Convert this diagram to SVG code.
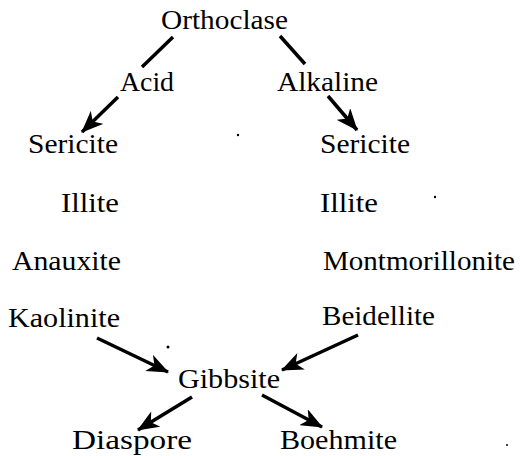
<svg xmlns="http://www.w3.org/2000/svg" width="520" height="456" viewBox="0 0 520 456">
<style>
text{font-family:"Liberation Serif","DejaVu Serif","Times New Roman",serif;font-size:27px;fill:#000}
.c line{stroke:#000;stroke-width:3.5;stroke-linecap:butt}
.a{marker-end:url(#ah)}
</style>
<defs>
<marker id="ah" markerUnits="userSpaceOnUse" markerWidth="22" markerHeight="18" viewBox="0 0 22 18" refX="21" refY="9" orient="auto">
<path d="M0,0 L22,9 L0,18 L6,9 Z" fill="#000"/>
</marker>
</defs>
<rect width="520" height="456" fill="#fff"/>
<g class="c" id="connectors">
<line x1="173" y1="37" x2="142" y2="67"/>
<line x1="280" y1="36" x2="305" y2="64"/>
<line class="a" x1="118" y1="97" x2="82" y2="132"/>
<line class="a" x1="328" y1="96" x2="357" y2="130"/>
<line class="a" x1="97" y1="338" x2="168" y2="372"/>
<line class="a" x1="358" y1="335" x2="282" y2="370"/>
<line class="a" x1="192" y1="397" x2="138" y2="430"/>
<line class="a" x1="262" y1="395" x2="322" y2="427"/>
</g>
<g id="orthoclase"><text x="161" y="29" textLength="127" lengthAdjust="spacingAndGlyphs">Orthoclase</text></g>
<g id="acid"><text x="120" y="91" textLength="54" lengthAdjust="spacingAndGlyphs">Acid</text></g>
<g id="alkaline"><text x="277" y="91" textLength="101" lengthAdjust="spacingAndGlyphs">Alkaline</text></g>
<g id="sericite-l"><text x="28" y="153" textLength="90" lengthAdjust="spacingAndGlyphs">Sericite</text></g>
<g id="sericite-r"><text x="320" y="153" textLength="90" lengthAdjust="spacingAndGlyphs">Sericite</text></g>
<g id="illite-l"><text x="61" y="212" textLength="58" lengthAdjust="spacingAndGlyphs">Illite</text></g>
<g id="illite-r"><text x="320" y="212" textLength="58" lengthAdjust="spacingAndGlyphs">Illite</text></g>
<g id="anauxite"><text x="12" y="270" textLength="109" lengthAdjust="spacingAndGlyphs">Anauxite</text></g>
<g id="montmorillonite"><text x="323" y="270" textLength="192" lengthAdjust="spacingAndGlyphs">Montmorillonite</text></g>
<g id="kaolinite"><text x="8" y="327" textLength="112" lengthAdjust="spacingAndGlyphs">Kaolinite</text></g>
<g id="beidellite"><text x="322" y="325" textLength="113" lengthAdjust="spacingAndGlyphs">Beidellite</text></g>
<g id="gibbsite"><text x="178" y="388" textLength="102" lengthAdjust="spacingAndGlyphs">Gibbsite</text></g>
<g id="diaspore"><text x="72" y="449" textLength="120" lengthAdjust="spacingAndGlyphs">Diaspore</text></g>
<g id="boehmite"><text x="280" y="449" textLength="117" lengthAdjust="spacingAndGlyphs">Boehmite</text></g>
<g id="specks" fill="#000">
<circle cx="238" cy="135" r="1.2"/>
<circle cx="435" cy="197" r="1.2"/>
<circle cx="168" cy="347" r="1.5"/>
<circle cx="507" cy="445" r="1"/>
</g>
</svg>
